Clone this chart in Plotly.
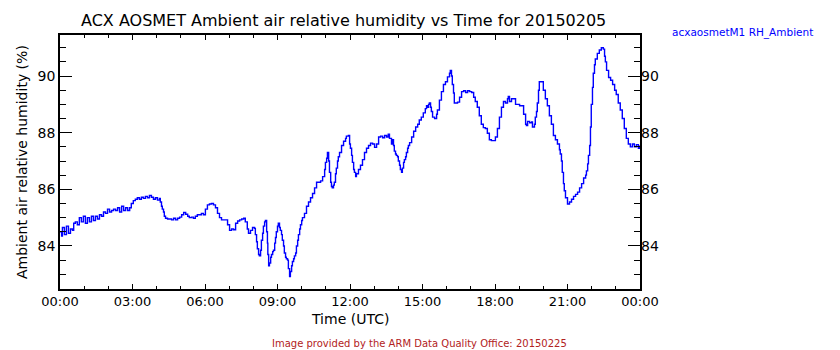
import pandas as pd
import plotly.graph_objects as go

# Ambient relative humidity (%) at the ACX AOSMET site, 2015-02-05, keyed by minute of day (UTC)
minute_of_day = [
    0, 4, 6, 11, 16, 21, 26, 31, 34, 38, 43, 48, 53, 58, 63, 68, 73, 78, 83, 88,
    93, 98, 103, 108, 113, 118, 123, 128, 133, 138, 143, 148, 153, 158, 163, 168, 173, 177, 182, 187,
    192, 197, 202, 207, 212, 217, 222, 227, 232, 237, 242, 247, 249, 252, 254, 257, 259, 262, 267, 272,
    277, 282, 287, 292, 297, 302, 307, 312, 317, 321, 326, 331, 336, 341, 346, 351, 356, 361, 366, 371,
    376, 381, 386, 391, 396, 401, 406, 411, 416, 421, 426, 431, 436, 441, 446, 451, 456, 460, 465, 468,
    473, 478, 483, 485, 488, 490, 493, 495, 498, 500, 503, 505, 508, 510, 513, 515, 516, 518, 520, 523,
    525, 528, 530, 533, 535, 537, 540, 542, 545, 547, 550, 552, 555, 557, 560, 562, 565, 567, 570, 572,
    575, 577, 580, 582, 585, 587, 590, 592, 595, 597, 600, 602, 607, 612, 617, 622, 627, 632, 637, 642,
    647, 652, 657, 659, 662, 664, 667, 669, 672, 674, 676, 679, 681, 684, 686, 689, 691, 694, 699, 704,
    709, 711, 716, 719, 721, 724, 726, 729, 731, 734, 736, 741, 746, 751, 756, 761, 766, 771, 776, 781,
    786, 791, 796, 801, 806, 811, 815, 818, 823, 825, 828, 830, 833, 835, 838, 840, 843, 845, 848, 850,
    853, 855, 858, 860, 863, 865, 868, 873, 878, 883, 888, 892, 897, 902, 907, 910, 912, 915, 917, 920,
    922, 925, 930, 935, 937, 942, 947, 952, 957, 962, 967, 969, 972, 974, 977, 979, 984, 987, 992, 997,
    1002, 1007, 1012, 1017, 1022, 1027, 1031, 1036, 1041, 1046, 1051, 1056, 1061, 1066, 1071, 1076, 1081, 1086, 1091, 1096,
    1101, 1106, 1111, 1113, 1116, 1121, 1126, 1131, 1136, 1141, 1146, 1151, 1156, 1158, 1161, 1166, 1171, 1173, 1178, 1180,
    1183, 1185, 1188, 1190, 1195, 1200, 1205, 1210, 1215, 1220, 1225, 1230, 1235, 1240, 1242, 1245, 1247, 1250, 1252, 1255,
    1260, 1265, 1270, 1275, 1280, 1285, 1290, 1295, 1300, 1305, 1307, 1310, 1312, 1315, 1317, 1319, 1322, 1324, 1327, 1329,
    1334, 1339, 1344, 1349, 1352, 1354, 1357, 1362, 1367, 1372, 1377, 1381, 1386, 1391, 1396, 1401, 1406, 1411, 1416, 1421,
    1426, 1431, 1436, 1439,
]
rh_ambient = [
    84.5, 84.35, 84.65, 84.4, 84.7, 84.45, 84.6, 84.55, 84.8, 84.85, 84.75, 85.0, 84.85, 85.05, 84.8, 85.0, 84.85, 85.05, 84.9, 85.05,
    84.95, 85.1, 85.05, 85.2, 85.15, 85.3, 85.2, 85.25, 85.3, 85.25, 85.35, 85.2, 85.4, 85.25, 85.35, 85.25, 85.35, 85.5, 85.6, 85.65,
    85.7, 85.65, 85.72, 85.68, 85.75, 85.7, 85.78, 85.72, 85.65, 85.7, 85.62, 85.68, 85.55, 85.4, 85.3, 85.2, 85.05, 84.98, 84.95, 84.95,
    84.92, 84.98, 84.92, 84.98, 85.02, 85.1, 85.18, 85.12, 85.05, 85.0, 85.02, 84.98, 85.05, 85.1, 85.1, 85.15, 85.1, 85.3, 85.45, 85.48,
    85.5, 85.45, 85.35, 85.15, 85.0, 84.92, 84.92, 84.92, 84.75, 84.55, 84.6, 84.57, 84.8, 84.88, 84.92, 84.95, 84.98, 84.85, 84.6, 84.45,
    84.55, 84.65, 84.62, 84.4, 84.15, 83.9, 83.7, 83.65, 83.85, 84.2, 84.45, 84.7, 84.85, 84.9, 84.5, 84.1, 83.7, 83.3, 83.4, 83.6,
    83.7, 83.8, 83.85, 84.1, 84.3, 84.5, 84.7, 84.8, 84.65, 84.55, 84.4, 84.2, 84.0, 83.75, 83.6, 83.55, 83.5, 83.2, 82.92, 83.1,
    83.3, 83.45, 83.55, 83.65, 83.75, 84.0, 84.2, 84.4, 84.6, 84.75, 84.9, 85.0, 85.15, 85.4, 85.55, 85.7, 85.85, 86.05, 86.25, 86.25,
    86.3, 86.45, 86.7, 86.95, 87.1, 87.3, 87.0, 86.6, 86.25, 86.1, 86.05, 86.15, 86.25, 86.55, 86.75, 87.0, 87.15, 87.3, 87.55, 87.7,
    87.8, 87.88, 87.9, 87.6, 87.45, 87.2, 86.95, 86.7, 86.6, 86.45, 86.55, 86.7, 86.85, 87.05, 87.3, 87.45, 87.55, 87.63, 87.6, 87.48,
    87.6, 87.85, 87.88, 87.82, 87.9, 87.85, 87.95, 87.8, 87.6, 87.75, 87.55, 87.35, 87.25, 87.2, 87.15, 87.0, 86.85, 86.7, 86.6, 86.75,
    86.95, 87.05, 87.15, 87.3, 87.45, 87.55, 87.65, 87.85, 88.05, 88.2, 88.3, 88.45, 88.55, 88.7, 88.85, 88.95, 88.9, 89.0, 89.05, 88.9,
    88.75, 88.55, 88.5, 88.65, 88.8, 89.15, 89.45, 89.7, 89.8, 89.97, 90.1, 90.2, 90.0, 89.7, 89.4, 89.05, 89.05, 89.08, 89.25, 89.45,
    89.48, 89.42, 89.48, 89.45, 89.42, 89.25, 89.1, 88.9, 88.6, 88.3, 88.18, 88.15, 87.98, 87.75, 87.72, 87.72, 87.85, 88.15, 88.55, 88.9,
    89.1, 89.05, 89.2, 89.28, 89.1, 89.2, 89.2, 89.0, 89.0, 88.95, 88.95, 88.65, 88.3, 88.25, 88.4, 88.35, 88.38, 88.2, 88.3, 88.55,
    88.75, 89.05, 89.5, 89.8, 89.8, 89.5, 89.2, 88.95, 88.6, 88.3, 87.9, 87.75, 87.6, 87.4, 87.25, 87.0, 86.6, 86.2, 85.95, 85.7,
    85.48, 85.55, 85.65, 85.75, 85.82, 85.9, 86.05, 86.2, 86.4, 86.5, 86.65, 86.9, 87.2, 87.55, 88.2, 89.0, 89.6, 90.1, 90.4, 90.6,
    90.8, 90.92, 91.0, 90.95, 90.7, 90.5, 90.2, 89.95, 89.85, 89.7, 89.5, 89.35, 89.05, 88.8, 88.5, 88.15, 87.8, 87.6, 87.5, 87.6,
    87.5, 87.58, 87.45, 87.55,
]

day_start = pd.Timestamp("2015-02-05 00:00")
day_end = pd.Timestamp("2015-02-06 00:00")
times = [day_start + pd.Timedelta(minutes=m) for m in minute_of_day]

y_range = [82.48, 91.45]
y_ticks = [84, 86, 88, 90]
x_ticks = pd.date_range(day_start, day_end, freq="3h")
x_labels = [t.strftime("%H:%M") for t in x_ticks]

BLUE = "rgb(0,0,255)"
FONT = "DejaVu Sans"

fig = go.Figure()
fig.add_trace(go.Scatter(
    x=times, y=rh_ambient, mode="lines", line=dict(color=BLUE, width=1.4, shape="hv"),
    hoverinfo="x+y", showlegend=False,
))
# duplicate on the right-hand axis so it carries its own labels
fig.add_trace(go.Scatter(
    x=times, y=rh_ambient, mode="lines", line=dict(color="rgba(0,0,0,0)", width=0),
    yaxis="y2", hoverinfo="skip", showlegend=False,
))

fig.update_layout(
    width=840, height=350,
    margin=dict(l=60, r=200, t=35, b=61),
    paper_bgcolor="white", plot_bgcolor="white",
    font=dict(family=FONT, size=13, color="black"),
    xaxis=dict(
        type="date", range=[day_start, day_end],
        tickvals=list(x_ticks), ticktext=x_labels,
        ticks="inside", ticklen=5, tickwidth=1, tickcolor="black",
        minor=dict(dtick=3600000, ticks="inside", ticklen=3, tickcolor="black"),
        showline=True, linecolor="black", linewidth=1.5, mirror="ticks",
        showgrid=False, zeroline=False, tickfont=dict(size=13),
    ),
    yaxis=dict(
        range=y_range, tickvals=y_ticks,
        ticks="inside", ticklen=12, tickwidth=1, tickcolor="black",
        minor=dict(dtick=0.5, tick0=84, ticks="inside", ticklen=6, tickcolor="black"),
        showline=True, linecolor="black", linewidth=1.5, mirror="ticks",
        showgrid=False, zeroline=False, tickfont=dict(size=14),
    ),
    yaxis2=dict(
        range=y_range, tickvals=y_ticks, overlaying="y", side="right",
        ticks="", showline=False, showgrid=False, zeroline=False,
        tickfont=dict(size=14),
    ),
)

annotations = [
    dict(text="ACX AOSMET Ambient air relative humidity vs Time for 20150205",
         x=0.488, y=1.059, font=dict(size=16)),
    dict(text="acxaosmetM1 RH_Ambient", x=1.052, y=1.008, xanchor="left",
         font=dict(size=10.5, color=BLUE)),
    dict(text="Time (UTC)", x=0.5, y=-0.118, font=dict(size=14)),
    dict(text="Ambient air relative humidity (%)", x=-0.0655, y=0.5,
         textangle=-90, font=dict(size=14)),
    dict(text="Image provided by the ARM Data Quality Office: 20150225",
         x=0.62, y=-0.2165, font=dict(size=10, color="rgb(178,34,34)")),
]
for a in annotations:
    a.setdefault("xanchor", "center")
    fig.add_annotation(xref="paper", yref="paper", yanchor="middle",
                       showarrow=False, **a)

fig.write_html("out.html")
